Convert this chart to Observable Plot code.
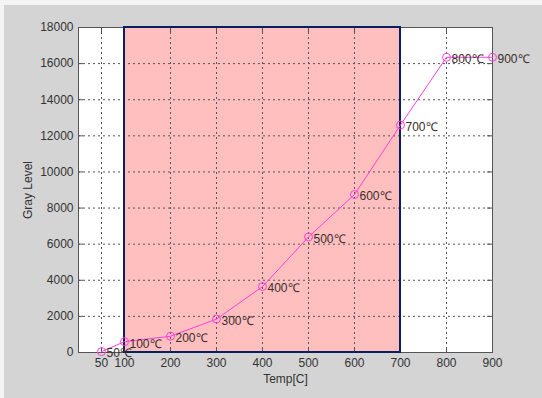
<!DOCTYPE html>
<html>
<head>
<meta charset="utf-8">
<script src="https://cdn.jsdelivr.net/npm/d3@7"></script>
<script src="https://cdn.jsdelivr.net/npm/@observablehq/plot@0.6"></script>
<style>
  html, body { margin: 0; padding: 0; background: #f4f4f4; }
  #wrap { position: relative; width: 542px; height: 398px; overflow: hidden; }
  #bg { position: absolute; left: 4px; top: 5px; right: 0; bottom: 0; background: #d4d4d4; }
  #chart { position: absolute; left: 0; top: 0; }
</style>
</head>
<body>
<div id="wrap"><div id="bg"></div><div id="chart"></div></div>
<script>
const temps = [50, 100, 200, 300, 400, 500, 600, 700, 800, 900];
const grayLevels = [50, 600, 900, 1850, 3650, 6400, 8750, 12600, 16350, 16350];
const xTicks = [50, 100, 200, 300, 400, 500, 600, 700, 800, 900];
const yTicks = [0, 2000, 4000, 6000, 8000, 10000, 12000, 14000, 16000, 18000];
const xGrid = [50, 200, 300, 400, 500, 600, 700, 800];
const yGrid = [2000, 4000, 6000, 8000, 10000, 12000, 14000, 16000];
const shadeFrom = [100];
const shadeTo = [700];

const data = temps.map((t, i) => ({t, g: grayLevels[i], label: `${t}℃`}));
const shade = shadeFrom.map((a, i) => ({a, b: shadeTo[i]}));

const W = 542, H = 398;
const mL = 78, mR = 50, mT = 27, mB = 46;
const fw = W - mL - mR, fh = H - mT - mB;
const magenta = "#ff3fdc";
const font = "'Liberation Sans', Arial, sans-serif";

const chart = Plot.plot({
  width: W, height: H,
  marginLeft: mL, marginRight: mR, marginTop: mT, marginBottom: mB,
  style: {background: "transparent", fontFamily: font, fontSize: "12px", color: "#333"},
  x: {domain: [0, 900]},
  y: {domain: [0, 18000]},
  marks: [
    Plot.frame({fill: "white", stroke: "none"}),
    Plot.rect(shade, {x1: "a", x2: "b", y1: 0, y2: 18000, fill: "#ffbfbf"}),
    Plot.ruleX(xGrid, {stroke: "#555", strokeDasharray: "2,3", strokeWidth: 1}),
    Plot.ruleY(yGrid, {stroke: "#555", strokeDasharray: "2,3", strokeWidth: 1}),
    Plot.tickX(xTicks, {x: d => d, insetTop: fh - 5, stroke: "#555"}),
    Plot.tickX(xTicks, {x: d => d, insetBottom: fh - 5, stroke: "#555"}),
    Plot.tickY(yTicks, {y: d => d, insetLeft: fw - 5, stroke: "#555"}),
    Plot.tickY(yTicks, {y: d => d, insetRight: fw - 5, stroke: "#555"}),
    Plot.frame({stroke: "#555", strokeWidth: 1}),
    Plot.rect(shade, {x1: "a", x2: "b", y1: 0, y2: 18000, fill: "none", stroke: "#0a1f60", strokeWidth: 2}),
    Plot.line(data, {x: "t", y: "g", stroke: magenta, strokeWidth: 1}),
    Plot.dot(data, {x: "t", y: "g", r: 4, stroke: magenta, fill: "none", strokeWidth: 1}),
    Plot.text(data, {x: "t", y: "g", text: "label", textAnchor: "start", dx: 5, dy: 2, fill: "#3a2c2c", fontSize: 12, fontFamily: font}),
    Plot.axisX(xTicks, {tickSize: 0, tickPadding: 6, tickFormat: d => String(d), label: "Temp[C]", labelAnchor: "center", labelArrow: "none", labelOffset: 30, fill: "#333", fontSize: 12, fontFamily: font}),
    Plot.axisY(yTicks, {tickSize: 0, tickPadding: 5, tickFormat: d => String(d), label: "Gray Level", labelAnchor: "center", labelArrow: "none", labelOffset: 55, fill: "#333", fontSize: 12, fontFamily: font})
  ]
});
document.getElementById("chart").appendChild(chart);
</script>
</body>
</html>
